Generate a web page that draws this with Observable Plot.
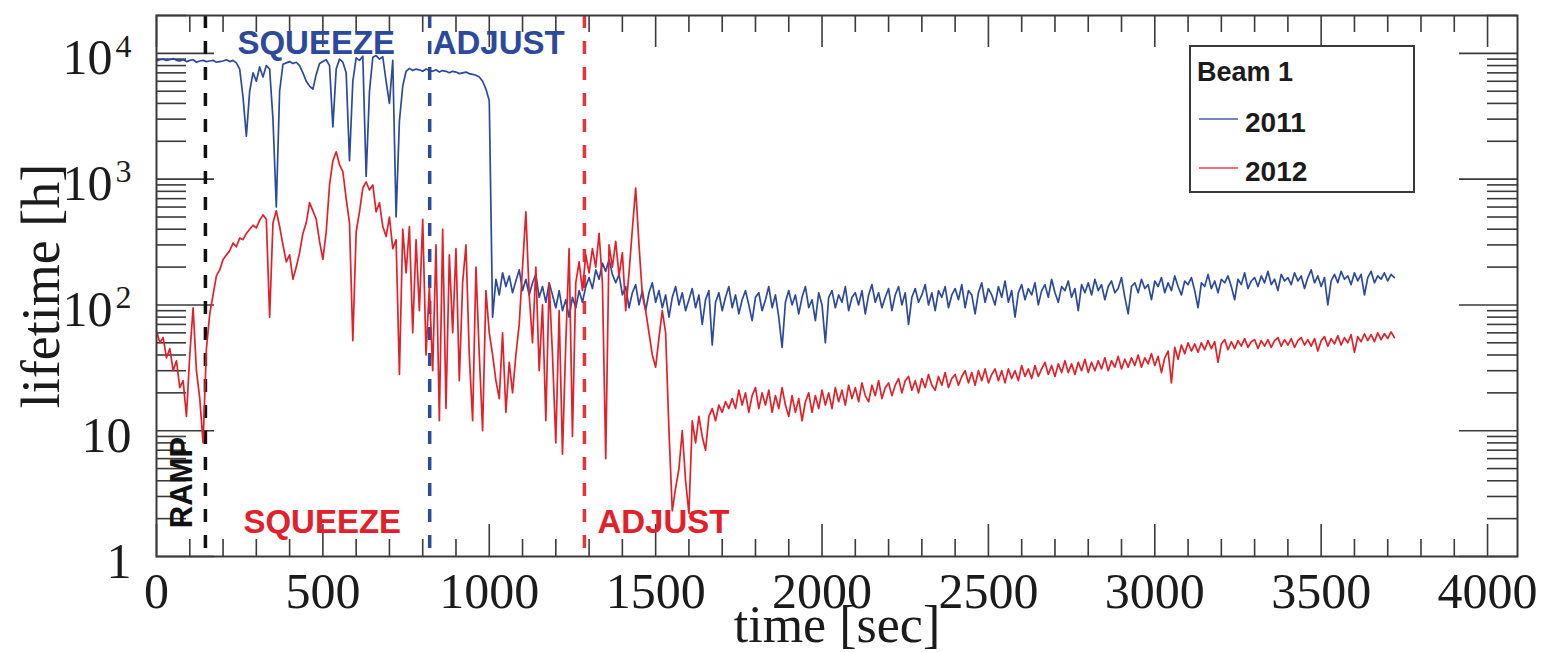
<!DOCTYPE html>
<html>
<head>
<meta charset="utf-8">
<script src="https://cdn.jsdelivr.net/npm/d3@7"></script>
<script src="https://cdn.jsdelivr.net/npm/@observablehq/plot@0.6"></script>
<style>
  html, body { margin: 0; padding: 0; background: #ffffff; }
  #chart { width: 1545px; height: 652px; overflow: hidden; }
</style>
</head>
<body>
<div id="chart"></div>
<script>
// Beam 1 lifetime [h] sampled every 10 s from the start of the ramp.
const sampleStep = 10;

const lifetime2011 = [
  8700, 8900, 9000, 8800, 8900, 9100, 8800, 8700, 8900, 8600, 8800, 8900, 8500, 8700, 8800,
  8600, 8700, 8800, 8500, 8600, 8700, 8900, 8600, 8800, 8400,
  7500, 4500, 2200, 5000, 7000, 6000, 7800, 6500, 8000, 7500,
  3000, 600, 5000, 8200, 8400, 8600, 8300, 8500, 8000, 7000,
  6000, 5500, 5200, 6800, 8300, 8600, 8900, 8000, 2600, 7500,
  9000, 8500, 7000, 1400, 6000, 9200, 8800, 9500, 1050, 5000,
  9300, 9600, 9000, 9400, 6000, 4000, 8800, 500, 2900, 5500,
  7200, 7600, 7300, 7500, 7400, 7200, 7500, 7300,
  7200, 7400, 7100, 7300, 7200, 7000, 7200, 7100, 6900, 7000,
  7100, 6900, 6800, 6700, 6500, 6000, 5200, 4200,
  80,
  160, 120, 180, 140, 170, 125, 155, 190, 130, 160,
  120, 150, 175, 115, 140, 105, 150, 120, 95, 130,
  90, 110, 80, 115, 95, 130, 105, 140, 165, 135,
  190, 160, 215, 185, 230, 175, 150, 175, 120, 140,
  95, 125, 145, 100, 130, 90, 125, 150, 105,
  130, 95, 120, 80, 115, 140, 100, 125, 90, 110,
  135, 95, 120, 70, 110, 130, 48, 105, 125, 90,
  115, 140, 95, 120, 85, 110, 130, 100, 75, 115,
  125, 90, 110, 140, 95, 120, 80, 46, 105, 130,
  100, 120, 85, 115, 140, 95, 110, 75, 125, 100,
  50, 115, 130, 95, 120, 105, 140, 90, 115, 125,
  100, 130, 85, 120, 145, 105, 125, 95, 115, 135,
  90, 120, 140, 100, 125, 70, 115, 135, 105, 120,
  145, 100, 125, 90, 130, 115, 140, 95, 120, 135,
  110, 145, 95, 130, 120, 85, 125, 150, 105, 135,
  120, 100, 140, 115, 155, 105, 130, 80, 125, 145,
  110, 135, 120, 150, 100, 130, 145, 115, 160, 125,
  105, 140, 130, 155, 115, 135, 90, 145, 125, 150,
  120, 160, 130, 145, 110, 140, 155, 125, 135, 165,
  115, 85, 140, 150, 125, 160, 135, 145, 110, 155,
  140, 165, 125, 150, 130, 170, 140, 120, 155, 145,
  165, 130, 95, 150, 140, 175, 135, 155, 125, 160,
  150, 170, 140, 110, 160, 145, 180, 135, 155, 165,
  140, 170, 150, 185, 145, 160, 130, 175, 155, 165,
  145, 180, 155, 170, 135, 165, 190, 150, 170, 140,
  165, 100, 155, 175, 150, 185, 160, 170, 145, 180,
  155, 175, 120, 165, 185, 150, 170, 160, 180, 155,
  175, 165
];

const lifetime2012 = [
  62, 50, 55, 38, 45, 30, 36, 22, 25, 13,
  40, 95, 30, 18, 8, 45, 85, 120, 170, 190,
  230, 250, 270, 310, 290, 340, 330, 370, 400, 430,
  410, 470, 520, 480, 80, 450, 560, 420, 300, 220,
  250, 160, 200, 260, 370, 450, 650, 560, 480, 320,
  230, 380, 900, 1400, 1650, 1300, 1150, 700, 450, 52,
  380, 550, 850, 950, 820, 900, 550, 650, 420, 350,
  500, 280, 330, 28, 400, 180, 420, 60, 330, 90,
  480, 40, 140, 30, 300, 12, 400, 15, 250, 60,
  280, 25, 150, 300, 40, 12, 200, 40, 10, 130,
  60, 40, 25, 18, 60, 14, 35, 20, 40, 70,
  200, 550, 120, 50, 200, 30, 100, 12, 150, 40,
  8, 90, 6.5, 50, 280, 9, 150, 220, 130, 250,
  180, 280, 200, 370, 150, 6, 300, 200, 320, 170,
  260, 90, 180, 400, 850, 300, 120, 90, 60, 40,
  32, 55, 90, 60, 10, 2.3, 3.5, 5, 10, 4,
  2.2, 12, 8, 13, 9, 7, 13, 15, 12, 16,
  14, 17, 15, 18,
  15, 21, 16, 20, 14, 19, 22, 15, 20, 16,
  21, 14, 19, 15, 22, 16, 13, 19, 14, 18,
  12, 17, 20, 14, 19, 15, 21, 16, 20, 15,
  22, 17, 21, 16, 23, 18, 22, 17, 24, 19,
  17, 23, 19, 25, 18, 22, 24, 19, 23, 26,
  20, 25, 27, 21, 25, 20, 26, 22, 28, 23,
  21, 27, 23, 29, 22, 26, 28, 23, 27, 30,
  24, 29, 23, 30, 25, 31, 24, 28, 31, 25,
  30, 24, 31, 26, 30, 25, 33, 27, 31, 26,
  33, 27, 31, 35, 28, 33, 27, 34, 29, 36,
  29, 34, 28, 35, 30, 37, 29, 35, 30, 36,
  31, 38, 30, 36, 32, 39, 31, 37, 32, 38,
  33, 40, 32, 38, 34, 41, 33, 39, 29, 38,
  43, 24, 46, 37, 48, 41, 50, 43, 49, 42,
  50, 44, 52, 45, 51, 35, 49, 53, 44, 51,
  45, 52, 47, 54, 46, 51, 53, 45, 52, 47,
  53, 46, 52, 55, 47, 53, 48, 54, 46, 52,
  55, 48, 53, 47, 54, 43, 52, 56, 47, 54,
  49, 57, 48, 55, 50, 58, 42, 56, 51, 59,
  52, 58, 51, 60, 53, 59, 54, 61, 55
];

const seriesNames = ["2011", "2012"];
const legendTitle = "Beam 1";

// Phase boundaries [sec]
const rampEnd = 147;
const squeezeEnd2011 = 821;
const squeezeEnd2012 = 1286;

// Axis ticks and labels
const xMajorTicks = [0, 500, 1000, 1500, 2000, 2500, 3000, 3500, 4000];
const yPlainTicks = [1, 10];
const yPlainLabels = ["1", "10"];
const yPowerTicks = [100, 1000, 10000];
const yPowerExponents = ["2", "3", "4"];

const blue = "#2c4a9c";
const red = "#e2202a";
const ink = "#1b1b1b";
const axisInk = "#3a3a3a";

const W = 1545, H = 652;
const mTop = 15, mRight = 28, mBottom = 96, mLeft = 156;
const frameW = W - mLeft - mRight;
const frameH = H - mTop - mBottom;

const toRows = (values, year) => values.map((v, i) => ({t: i * sampleStep, v, year}));
const rows2011 = toRows(lifetime2011, seriesNames[0]);
const rows2012 = toRows(lifetime2012, seriesNames[1]);

// minor ticks
const xMinorTicks = d3.range(0, 4100, 100).filter(d => d % 500 !== 0);
const yMinorTicks = [];
for (let p = 0; p <= 4; p++) for (let k = 2; k <= 9; k++) {
  const v = k * Math.pow(10, p);
  if (v <= 20000) yMinorTicks.push(v);
}

const serif = "Liberation Serif, Times New Roman, serif";
const sans = "Liberation Sans, Arial, sans-serif";

const dash = "13,13";

const chart = Plot.plot({
  width: W,
  height: H,
  marginTop: mTop,
  marginRight: mRight,
  marginBottom: mBottom,
  marginLeft: mLeft,
  style: {background: "#ffffff", overflow: "visible"},
  x: {domain: [0, 4090], axis: null},
  y: {type: "log", domain: [1, 20000], axis: null},
  marks: [
    // tick marks drawn inward on all four sides
    Plot.tickX(xMajorTicks, {x: d => d, insetTop: frameH - 32, stroke: axisInk, strokeWidth: 1.6}),
    Plot.tickX(xMinorTicks, {x: d => d, insetTop: frameH - 17, stroke: axisInk, strokeWidth: 1.6}),
    Plot.tickX(xMajorTicks, {x: d => d, insetBottom: frameH - 32, stroke: axisInk, strokeWidth: 1.6}),
    Plot.tickX(xMinorTicks, {x: d => d, insetBottom: frameH - 17, stroke: axisInk, strokeWidth: 1.6}),
    Plot.tickY([...yPlainTicks, ...yPowerTicks], {y: d => d, insetRight: frameW - 58, stroke: axisInk, strokeWidth: 1.6}),
    Plot.tickY(yMinorTicks, {y: d => d, insetRight: frameW - 30, stroke: axisInk, strokeWidth: 1.6}),
    Plot.tickY([...yPlainTicks, ...yPowerTicks], {y: d => d, insetLeft: frameW - 58, stroke: axisInk, strokeWidth: 1.6}),
    Plot.tickY(yMinorTicks, {y: d => d, insetLeft: frameW - 30, stroke: axisInk, strokeWidth: 1.6}),

    // phase boundaries
    Plot.ruleX([rampEnd], {stroke: "#111111", strokeWidth: 3.5, strokeDasharray: dash}),
    Plot.ruleX([squeezeEnd2011], {stroke: blue, strokeWidth: 3.5, strokeDasharray: dash}),
    Plot.ruleX([squeezeEnd2012], {stroke: "#e8323c", strokeWidth: 3.5, strokeDasharray: dash}),

    // lifetime curves
    Plot.line(rows2011, {x: "t", y: "v", stroke: blue, strokeWidth: 1.7}),
    Plot.line(rows2012, {x: "t", y: "v", stroke: red, strokeWidth: 1.7}),

    // phase names
    Plot.text(["SQUEEZE"], {x: rampEnd, frameAnchor: "top", dx: 32, dy: 38, textAnchor: "start", lineAnchor: "bottom",
      fill: blue, fontFamily: sans, fontWeight: "bold", fontSize: 33}),
    Plot.text(["ADJUST"], {x: squeezeEnd2011, frameAnchor: "top", dx: 3, dy: 38, textAnchor: "start", lineAnchor: "bottom",
      fill: blue, fontFamily: sans, fontWeight: "bold", fontSize: 33}),
    Plot.text(["SQUEEZE"], {x: rampEnd, frameAnchor: "bottom", dx: 38, dy: -24, textAnchor: "start", lineAnchor: "bottom",
      fill: red, fontFamily: sans, fontWeight: "bold", fontSize: 33}),
    Plot.text(["ADJUST"], {x: squeezeEnd2012, frameAnchor: "bottom", dx: 13, dy: -24, textAnchor: "start", lineAnchor: "bottom",
      fill: red, fontFamily: sans, fontWeight: "bold", fontSize: 33}),
    Plot.text(["RAMP"], {x: rampEnd, frameAnchor: "bottom", dx: -13, dy: -74, rotate: -90, textAnchor: "middle", lineAnchor: "bottom",
      fill: "#111111", fontFamily: sans, fontWeight: "bold", fontSize: 31}),

    // frame
    Plot.frame({stroke: axisInk, strokeWidth: 2}),

    // tick labels
    Plot.text(xMajorTicks, {x: d => d, text: d => String(d), frameAnchor: "bottom", dy: 51, lineAnchor: "bottom",
      textAnchor: "middle", fill: ink, fontFamily: serif, fontSize: 50}),
    Plot.text(yPlainTicks, {y: d => d, text: (d, i) => yPlainLabels[i], frameAnchor: "left", dx: -25, dy: 5,
      textAnchor: "end", lineAnchor: "middle", fill: ink, fontFamily: serif, fontSize: 50}),
    Plot.text(yPowerTicks, {y: d => d, text: () => "10", frameAnchor: "left", dx: -44, dy: 5,
      textAnchor: "end", lineAnchor: "middle", fill: ink, fontFamily: serif, fontSize: 50}),
    Plot.text(yPowerTicks, {y: d => d, text: (d, i) => yPowerExponents[i], frameAnchor: "left", dx: -25, dy: -7,
      textAnchor: "end", lineAnchor: "middle", fill: ink, fontFamily: serif, fontSize: 32}),

    // axis titles
    Plot.text(["time [sec]"], {frameAnchor: "bottom", dy: 85, lineAnchor: "bottom", textAnchor: "middle",
      fill: ink, fontFamily: serif, fontSize: 52}),
    Plot.text(["lifetime [h]"], {frameAnchor: "left", dx: -98, rotate: -90, lineAnchor: "bottom", textAnchor: "middle",
      fill: ink, fontFamily: serif, fontSize: 54})
  ]
});

document.getElementById("chart").appendChild(chart);

// legend box inside the frame, upper right
const svg = d3.select(chart);
const legend = svg.append("g").attr("class", "legend").attr("text-anchor", "start");
legend.append("rect")
  .attr("x", 1190).attr("y", 46).attr("width", 224).attr("height", 146)
  .attr("fill", "#ffffff").attr("stroke", axisInk).attr("stroke-width", 2);
legend.append("text")
  .attr("x", 1197).attr("y", 81)
  .attr("font-family", sans).attr("font-weight", "bold").attr("font-size", 27).attr("fill", ink)
  .text(legendTitle);
const legendColors = ["#7385c4", "#ef6f78"];
seriesNames.forEach((name, i) => {
  const yMid = 119 + i * 49;
  legend.append("line")
    .attr("x1", 1199).attr("x2", 1238).attr("y1", yMid).attr("y2", yMid)
    .attr("stroke", legendColors[i]).attr("stroke-width", 2);
  legend.append("text")
    .attr("x", 1245).attr("y", yMid + 13)
    .attr("font-family", sans).attr("font-weight", "bold").attr("font-size", 28).attr("fill", ink)
    .text(name);
});
</script>
</body>
</html>
